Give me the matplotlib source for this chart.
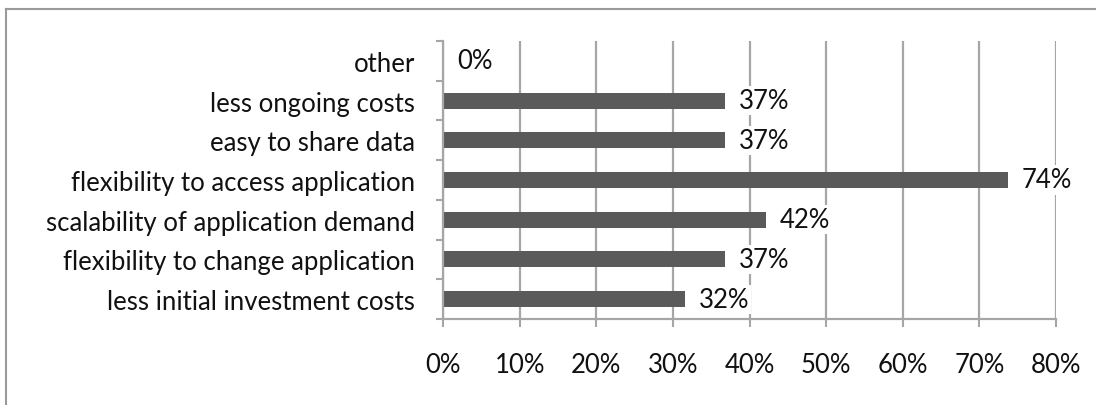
import matplotlib
matplotlib.use("Agg")
import matplotlib.pyplot as plt
from matplotlib.lines import Line2D
from matplotlib.ticker import FuncFormatter

plt.rcParams['font.family'] = ['Lato', 'DejaVu Sans']

# survey answers, bottom to top (share of 19 respondents)
categories = [
    "less initial investment costs",
    "flexibility to change application",
    "scalability of application demand",
    "flexibility to access application",
    "easy to share data",
    "less ongoing costs",
    "other",
]
shares = [6 / 19, 7 / 19, 8 / 19, 14 / 19, 7 / 19, 7 / 19, 0.0]
x_ticks = [0, 0.1, 0.2, 0.3, 0.4, 0.5, 0.6, 0.7, 0.8]

text_col = "#111111"
grid_col = "#a6a6a6"
bar_col = "#5a5a5a"
fs = 18.5

fig = plt.figure(figsize=(10.96, 4.06), dpi=100)
ax = fig.add_axes([443 / 1096, 1 - 320 / 406, 613 / 1096, 278 / 406])

pos = list(range(len(categories)))
ax.barh(pos, shares, height=0.4, color=bar_col, zorder=2)

for p, v in zip(pos, shares):
    ax.text(v + 0.018, p, f"{v:.0%}", va="center", ha="left", fontsize=fs,
            color=text_col, zorder=4,
            bbox=dict(facecolor="white", edgecolor="none", pad=1.5))

ax.set_xlim(0, 0.8)
ax.set_ylim(-0.5, len(categories) - 0.5)
ax.set_xticks(x_ticks)
ax.xaxis.set_major_formatter(FuncFormatter(lambda x, _: f"{x:.0%}"))
ax.set_yticks(pos)
ax.set_yticklabels(categories)
ax.set_yticks([i - 0.5 for i in range(len(categories) + 1)], minor=True)

ax.tick_params(axis="y", which="major", length=0, pad=20, labelsize=fs, labelcolor=text_col)
ax.tick_params(axis="y", which="minor", length=5, width=1.5, color=grid_col, direction="out")
ax.tick_params(axis="x", length=6, width=1.5, color=grid_col, pad=18, labelsize=fs,
               labelcolor=text_col)

ax.grid(axis="x", color=grid_col, linewidth=1.6, zorder=1)
ax.set_axisbelow(True)
for side in ["top", "right"]:
    ax.spines[side].set_visible(False)
for side in ["left", "bottom"]:
    ax.spines[side].set_color(grid_col)
    ax.spines[side].set_linewidth(1.6)

# chart-area border (only top and left edges show in the crop)
fig.add_artist(Line2D([6 / 1096, 1], [1 - 10 / 406, 1 - 10 / 406], color="#9a9a9a", lw=1.5,
                      transform=fig.transFigure))
fig.add_artist(Line2D([6 / 1096, 6 / 1096], [0, 1 - 10 / 406], color="#9a9a9a", lw=1.5,
                      transform=fig.transFigure))

fig.savefig("out.png", dpi=100, facecolor="white")
